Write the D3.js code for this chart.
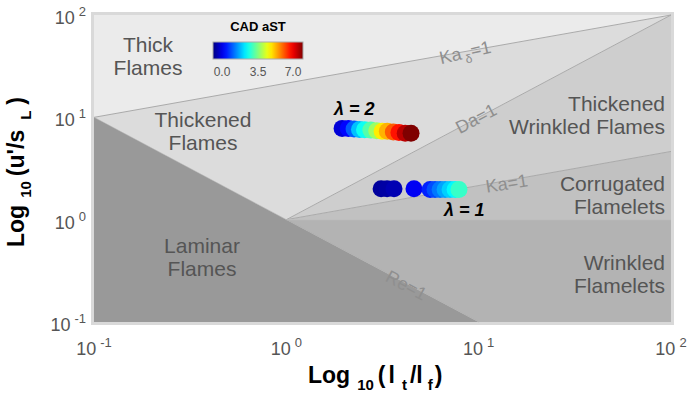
<!DOCTYPE html>
<html>
<head>
<meta charset="utf-8">
<script src="https://cdn.jsdelivr.net/npm/d3@7"></script>
<style>
  body { margin: 0; background: #fff; }
  svg { font-family: "Liberation Sans", Arial, sans-serif; }
</style>
</head>
<body>
<div id="chart"></div>
<script>
// lambda = 2 case: l_t/l_f, u'/s_L, CAD aST
const lam2X = [1.95, 2.1, 2.25, 2.4, 2.55, 2.75, 2.95, 3.15, 3.35, 3.6, 3.85, 4.15, 4.45];
const lam2Y = [7.8, 7.8, 7.7, 7.6, 7.55, 7.5, 7.4, 7.3, 7.3, 7.2, 7.1, 7.0, 7.0];
const lam2C = [0.6, 0.9, 1.5, 2.2, 2.7, 3.2, 3.7, 4.5, 4.9, 5.5, 6.0, 6.6, 7.0];

// lambda = 1 case
const lam1X = [3.11, 3.34, 3.63, 4.61, 5.59, 5.93, 6.3, 6.69, 7.1, 7.54, 7.9];
const lam1Y = [2.0, 2.0, 2.0, 2.0, 1.97, 1.97, 1.97, 1.97, 1.97, 1.97, 1.97];
const lam1C = [0.2, 0.25, 0.35, 0.8, 1.1, 1.4, 1.7, 2.0, 2.3, 2.6, 3.0];

const tickVals = [0.1, 1, 10, 100];
const tickExp = ["-1", "0", "1", "2"];
const cbarTicks = [0, 3.5, 7];

const width = 690, height = 400;
const svg = d3.select("#chart").append("svg")
  .attr("width", width).attr("height", height);

const x = d3.scaleLog().domain([0.1, 100]).range([94, 671]);
const y = d3.scaleLog().domain([0.1, 100]).range([322, 15]);

// jet colormap
function jet(t) {
  const c = v => Math.max(0, Math.min(1, v));
  const r = c(1.5 - Math.abs(4 * t - 3));
  const g = c(1.5 - Math.abs(4 * t - 2));
  const b = c(1.5 - Math.abs(4 * t - 1));
  return d3.rgb(r * 255, g * 255, b * 255).formatHex();
}
const color = v => jet(v / 7);

// regime boundaries
const ka = lt => Math.pow(lt, 1 / 3);
const kad = lt => 10 * Math.pow(10 * lt, 1 / 3);

const regions = [
  { fill: "#ebebeb", pts: [[0.1, 10], [0.1, 100], [100, 100]] },
  { fill: "#dcdcdc", pts: [[0.1, 10], [100, 100], [1, 1]] },
  { fill: "#cecece", pts: [[1, 1], [100, 100], [100, ka(100)]] },
  { fill: "#c1c1c1", pts: [[1, 1], [100, ka(100)], [100, 1]] },
  { fill: "#b3b3b3", pts: [[1, 1], [100, 1], [100, 0.1], [10, 0.1]] },
  { fill: "#999999", pts: [[0.1, 0.1], [0.1, 10], [10, 0.1]] }
];

const line = d3.line().x(d => x(d[0])).y(d => y(d[1]));

// frame
svg.append("rect")
  .attr("x", 92.5).attr("y", 13.5)
  .attr("width", 580).attr("height", 310)
  .attr("fill", "none").attr("stroke", "#d9d9d9").attr("stroke-width", 3);

svg.append("g").selectAll("path")
  .data(regions)
  .join("path")
    .attr("d", d => line(d.pts) + "Z")
    .attr("fill", d => d.fill);

// boundary lines
const bounds = [
  [[0.1, 10], [100, 100]],
  [[1, 1], [100, 100]],
  [[1, 1], [100, ka(100)]],
  [[1, 1], [100, 1]],
  [[0.1, 10], [10, 0.1]]
];
svg.append("g").selectAll("path")
  .data(bounds)
  .join("path")
    .attr("d", line)
    .attr("fill", "none")
    .attr("stroke", (d, i) => i === 3 ? "#bdbdbd" : "#aaaaaa")
    .attr("stroke-opacity", (d, i) => i === 4 ? 0.5 : 1)
    .attr("stroke-width", 1);

// region labels
const regionLabels = [
  { lines: ["Thick", "Flames"], x: 148, y: 52, anchor: "middle" },
  { lines: ["Thickened", "Flames"], x: 203, y: 127, anchor: "middle" },
  { lines: ["Laminar", "Flames"], x: 202, y: 253, anchor: "middle" },
  { lines: ["Thickened", "Wrinkled Flames"], x: 665, y: 111, anchor: "end" },
  { lines: ["Corrugated", "Flamelets"], x: 665, y: 191, anchor: "end" },
  { lines: ["Wrinkled", "Flamelets"], x: 665, y: 270, anchor: "end" }
];
regionLabels.forEach(r => {
  const t = svg.append("text")
    .attr("x", r.x).attr("y", r.y)
    .attr("text-anchor", r.anchor)
    .attr("font-size", 21).attr("fill", "#555");
  r.lines.forEach((s, i) => {
    t.append("tspan").attr("x", r.x).attr("dy", i ? 22.5 : 0).text(s);
  });
});

// line labels
function lineLabel(px, py, ang, parts) {
  const t = svg.append("text")
    .attr("transform", `translate(${px},${py}) rotate(${ang})`)
    .attr("text-anchor", "middle")
    .attr("dominant-baseline", "central")
    .attr("font-size", 18).attr("fill", "#8f8f8f");
  parts.forEach(p => {
    const s = t.append("tspan").text(p.t);
    if (p.sub) s.attr("font-size", 12).attr("dy", 7).attr("dx", 3);
    if (p.back) s.attr("dy", -7);
  });
}
lineLabel(x(8.5), y(kad(8.5)) + 1, -13, [{ t: "Ka" }, { t: "δ", sub: true }, { t: "=1", back: true }]);
lineLabel(x(9.7), y(9.7), -28, [{ t: "Da=1" }]);
lineLabel(x(14), y(ka(14)) + 3, -9, [{ t: "Ka=1" }]);
lineLabel(x(4.2), y(1 / 4.2) + 2, 28, [{ t: "Re=1" }]);

// data points
const pts2 = lam2X.map((v, i) => ({ x: v, y: lam2Y[i], c: lam2C[i] }));
const pts1 = lam1X.map((v, i) => ({ x: v, y: lam1Y[i], c: lam1C[i] }));
[pts2, pts1].forEach(pts => {
  svg.append("g").selectAll("circle")
    .data(pts)
    .join("circle")
      .attr("cx", d => x(d.x))
      .attr("cy", d => y(d.y))
      .attr("r", 8.5)
      .attr("fill", d => color(d.c));
});

svg.append("text").attr("x", 334).attr("y", 115)
  .attr("font-size", 18).attr("font-weight", "bold").attr("font-style", "italic")
  .text("λ = 2");
svg.append("text").attr("x", 444).attr("y", 216)
  .attr("font-size", 18).attr("font-weight", "bold").attr("font-style", "italic")
  .text("λ = 1");

// colorbar
const cb = d3.scaleLinear().domain([0, 7]).range([213, 303]);
const grad = svg.append("defs").append("linearGradient").attr("id", "jet");
d3.range(0, 1.0001, 0.05).forEach(t => {
  grad.append("stop").attr("offset", t).attr("stop-color", jet(t));
});
svg.append("rect")
  .attr("x", cb(0)).attr("y", 42).attr("width", cb(7) - cb(0)).attr("height", 17)
  .attr("fill", "url(#jet)").attr("stroke", "#aaa").attr("stroke-width", 1);
svg.append("text").attr("x", 258).attr("y", 31).attr("text-anchor", "middle")
  .attr("font-size", 13).attr("font-weight", "bold").text("CAD aST");
svg.append("g").selectAll("text")
  .data(cbarTicks)
  .join("text")
    .attr("x", (d, i) => [222, 258, 293][i])
    .attr("y", 76)
    .attr("text-anchor", "middle")
    .attr("font-size", 12).attr("fill", "#555")
    .text(d => d.toFixed(1));

// tick labels
function powLabel(sel, exp) {
  sel.append("tspan").text("10");
  sel.append("tspan").attr("font-size", 13).attr("dx", 4).attr("dy", -8).text(exp);
}
svg.append("g").selectAll("text")
  .data(tickVals)
  .join("text")
    .attr("x", 86)
    .attr("y", d => y(d) + 9)
    .attr("text-anchor", "end")
    .attr("font-size", 18).attr("fill", "#555")
    .each(function(d, i) { powLabel(d3.select(this), tickExp[i]); });
svg.append("g").selectAll("text")
  .data(tickVals)
  .join("text")
    .attr("x", d => x(d))
    .attr("y", 355)
    .attr("text-anchor", "middle")
    .attr("font-size", 18).attr("fill", "#555")
    .each(function(d, i) { powLabel(d3.select(this), tickExp[i]); });

// axis titles (sub/superscript parts with explicit gaps)
function title(sel, parts) {
  parts.forEach(p => {
    const s = sel.append("tspan").text(p.t).attr("dx", p.dx || 0);
    if (p.sub) s.attr("font-size", 15).attr("dy", 7);
    if (p.back) s.attr("dy", -7);
  });
}
const xt = svg.append("text")
  .attr("x", 308).attr("y", 383)
  .attr("font-size", 23).attr("font-weight", "bold");
title(xt, [{ t: "Log" }, { t: "10", sub: true, dx: 7 }, { t: "(", back: true, dx: 4 },
  { t: "l", dx: 3 }, { t: "t", sub: true, dx: 7 }, { t: "/l", back: true, dx: 3 },
  { t: "f", sub: true, dx: 5 }, { t: ")", back: true, dx: 2 }]);

const yt = svg.append("text")
  .attr("transform", "translate(24,247) rotate(-90)")
  .attr("font-size", 23).attr("font-weight", "bold");
title(yt, [{ t: "Log" }, { t: "10", sub: true, dx: 7 }, { t: "(u'/s", back: true, dx: 5 },
  { t: "L", sub: true, dx: 10 }, { t: ")", back: true, dx: 6 }]);
</script>
</body>
</html>
